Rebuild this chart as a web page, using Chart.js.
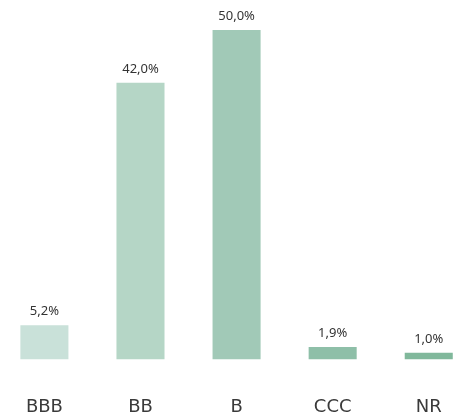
<!DOCTYPE html>
<html lang="en">
<head>
    <meta charset="UTF-8">
    <title>Rating breakdown</title>
    <script src="https://cdn.jsdelivr.net/npm/chart.js"></script>
    <style>
        body {
            margin: 0;
            background: #ffffff;
            overflow: hidden;
        }
        .wrap {
            position: absolute;
            left: -11px;
            top: 0;
            width: 489px;
            height: 455px;
        }
    </style>
</head>
<body>
    <div class="wrap"><canvas id="rating-chart"></canvas></div>

    <script>
        const ratings = ['BBB', 'BB', 'B', 'CCC', 'NR'];
        const shares = [5.2, 42.0, 50.0, 1.9, 1.0];
        const barColors = ['#c9e1d9', '#b5d6c6', '#a1c9b7', '#8ebfa8', '#80b89b'];

        // draws "5,2%" style labels above each bar
        const valueLabels = {
            id: 'valueLabels',
            afterDatasetsDraw(chart) {
                const ctx = chart.ctx;
                const meta = chart.getDatasetMeta(0);
                ctx.save();
                ctx.font = '13px "Noto Sans", sans-serif';
                ctx.fillStyle = '#333333';
                ctx.textAlign = 'center';
                ctx.textBaseline = 'middle';
                meta.data.forEach((bar, i) => {
                    const text = shares[i].toFixed(1).replace('.', ',') + '%';
                    ctx.fillText(text, bar.x, bar.y - 13.5);
                });
                ctx.restore();
            }
        };

        const ctx = document.getElementById('rating-chart').getContext('2d');
        new Chart(ctx, {
            type: 'bar',
            data: {
                labels: ratings,
                datasets: [{
                    data: shares,
                    backgroundColor: barColors,
                    borderWidth: 0,
                    barPercentage: 0.5,
                    categoryPercentage: 1.0
                }]
            },
            options: {
                responsive: true,
                maintainAspectRatio: false,
                animation: false,
                layout: {
                    padding: { top: 30, bottom: 0, left: 0, right: 0 }
                },
                plugins: {
                    legend: { display: false },
                    tooltip: { enabled: false }
                },
                scales: {
                    x: {
                        grid: { display: false, drawTicks: false },
                        border: { display: false },
                        ticks: {
                            color: '#3a3a3a',
                            font: { family: '"DejaVu Sans", sans-serif', size: 18 },
                            padding: 37
                        }
                    },
                    y: {
                        display: false,
                        min: 0,
                        max: 50
                    }
                }
            },
            plugins: [valueLabels]
        });
    </script>
</body>
</html>
